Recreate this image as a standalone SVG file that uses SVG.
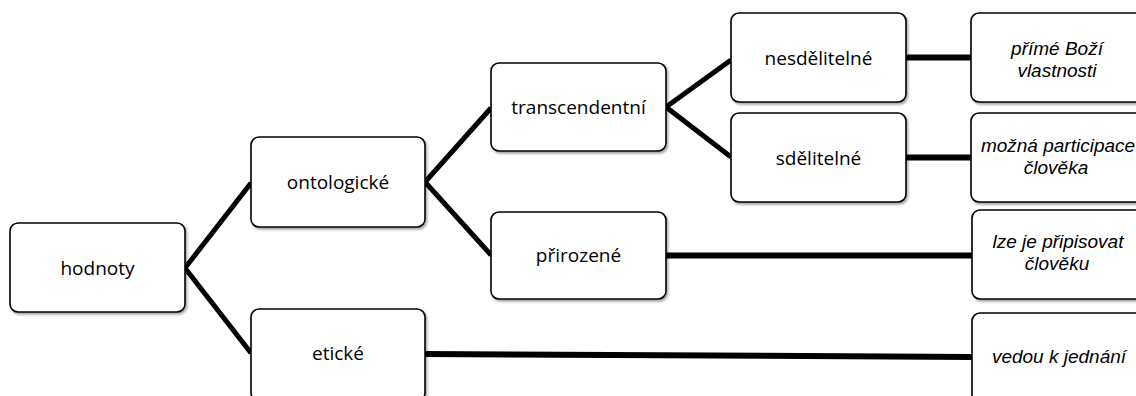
<svg xmlns="http://www.w3.org/2000/svg" width="1136" height="396" viewBox="0 0 1136 396">
<style>
.box{fill:#fff;stroke:#000;stroke-width:1.6;filter:url(#sh)}
.t{font-family:"Open Sans","Liberation Sans",sans-serif;font-size:19px;fill:#000;text-anchor:middle}
.i{font-family:"Liberation Sans",Arial,sans-serif;font-style:italic;font-size:19px}
.c{stroke:#000;stroke-width:5;fill:none;stroke-linecap:butt}
.h{stroke:#000;stroke-width:6;fill:none}
</style>
<defs>
<filter id="sh" x="-10%" y="-10%" width="130%" height="130%">
<feDropShadow dx="1.5" dy="2" stdDeviation="1.2" flood-color="#000" flood-opacity="0.35"/>
</filter>
</defs>
<rect width="1136" height="396" fill="#fff"/>
<g id="connectors">
<polyline class="c" points="251,183 185,268 251,353"/>
<polyline class="c" points="491,108 425,182 491,255"/>
<polyline class="c" points="731,60 666,107 731,157"/>
<line class="h" x1="906" y1="57.5" x2="971" y2="57.5"/>
<line class="h" x1="906" y1="157.5" x2="971" y2="157.5"/>
<line class="h" x1="666" y1="255.5" x2="972" y2="255.5"/>
<line class="h" x1="425" y1="354" x2="972" y2="357"/>
</g>
<g id="hodnoty"><rect class="box" x="10" y="223" width="175" height="89" rx="8"/><text class="t" x="97.5" y="274.5">hodnoty</text></g>
<g id="ontologicke"><rect class="box" x="251" y="137" width="174" height="90" rx="8"/><text class="t" x="338" y="188.5">ontologické</text></g>
<g id="eticke"><rect class="box" x="251" y="309" width="174" height="92" rx="8"/><text class="t" x="338" y="360">etické</text></g>
<g id="transcendentni"><rect class="box" x="491" y="63" width="175" height="88" rx="8"/><text class="t" x="578.5" y="114">transcendentní</text></g>
<g id="prirozene"><rect class="box" x="491" y="212" width="175" height="87" rx="8"/><text class="t" x="578.5" y="262">přirozené</text></g>
<g id="nesdelitelne"><rect class="box" x="731" y="13" width="175" height="89" rx="8"/><text class="t" x="818.5" y="64.5">nesdělitelné</text></g>
<g id="sdelitelne"><rect class="box" x="731" y="113" width="175" height="89" rx="8"/><text class="t" x="818.5" y="164.5">sdělitelné</text></g>
<g id="prime"><rect class="box" x="971" y="13" width="175" height="89" rx="8"/><text class="t i"><tspan x="1057" y="55">přímé Boží</tspan><tspan x="1057" y="77">vlastnosti</tspan></text></g>
<g id="mozna"><rect class="box" x="971" y="113" width="175" height="89" rx="8"/><text class="t i"><tspan x="1058" y="152">možná participace</tspan><tspan x="1056" y="174">člověka</tspan></text></g>
<g id="lze"><rect class="box" x="972" y="210" width="175" height="89" rx="8"/><text class="t i"><tspan x="1058" y="248">lze je připisovat</tspan><tspan x="1057" y="270">člověku</tspan></text></g>
<g id="vedou"><rect class="box" x="972" y="313" width="175" height="92" rx="8"/><text class="t i" x="1059" y="363">vedou k jednání</text></g>
</svg>
